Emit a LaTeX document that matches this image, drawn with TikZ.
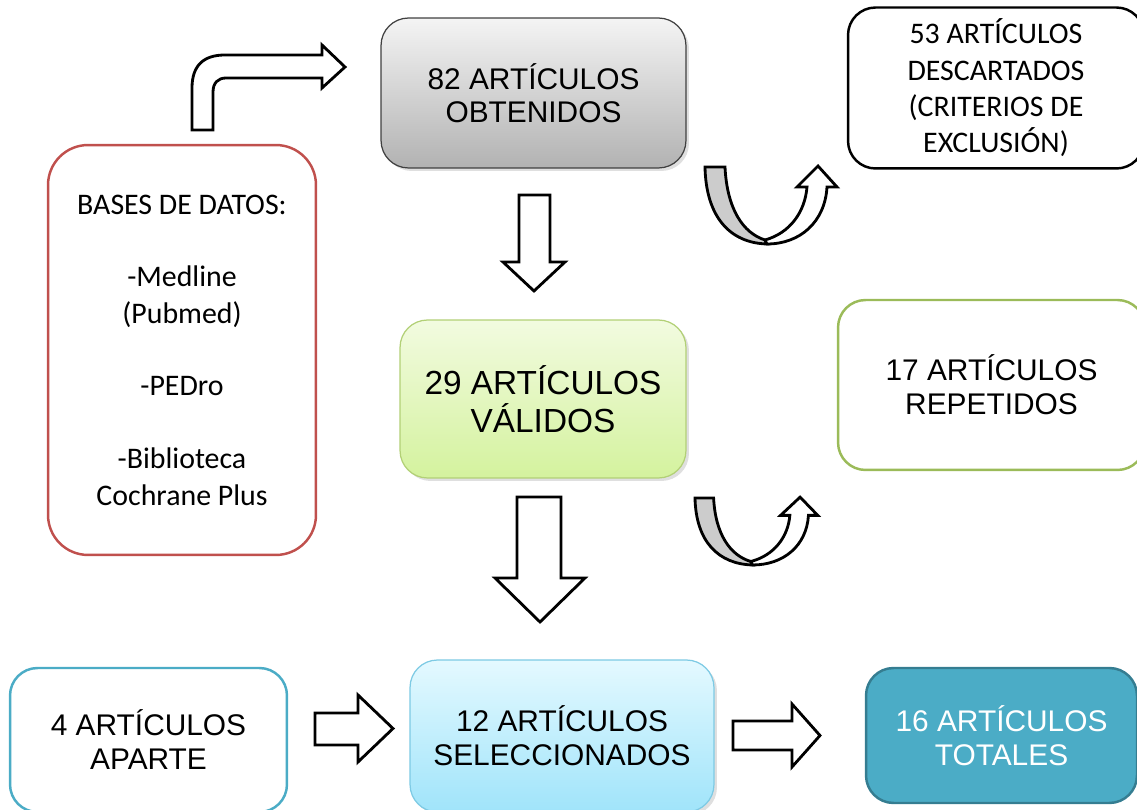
\documentclass[tikz,border=0pt]{standalone}
\usepackage{fontspec}
\setmainfont{Liberation Sans}
\newfontfamily\calibri{Carlito}
\usetikzlibrary{shadows}
\definecolor{basesred}{RGB}{192,80,77}
\definecolor{repgreen}{RGB}{155,187,89}
\definecolor{valgreen}{RGB}{178,208,118}
\definecolor{valtop}{RGB}{242,251,224}
\definecolor{valbot}{RGB}{212,242,158}
\definecolor{obttop}{RGB}{244,244,244}
\definecolor{obtbot}{RGB}{178,178,178}
\definecolor{apablue}{RGB}{75,172,198}
\definecolor{selblue}{RGB}{125,202,228}
\definecolor{seltop}{RGB}{228,249,255}
\definecolor{selbot}{RGB}{160,228,250}
\definecolor{totfill}{RGB}{75,172,198}
\definecolor{totdraw}{RGB}{53,125,145}
\definecolor{ugray}{RGB}{204,204,204}

\begin{document}
\begin{tikzpicture}[x=0.02cm, y=-0.02cm,
  caja/.style={rounded corners=0.55cm, align=center, inner sep=0pt,
    font=\fontsize{17}{19.4}\selectfont},
  sombra/.style={drop shadow={opacity=0.25, shadow xshift=0.06cm, shadow yshift=-0.06cm}},
  flecha/.style={draw=black, fill=white, line width=1.6pt, line join=miter},
  uturn/.pic={
    \path[flecha, fill=ugray] (0,0) -- (20,0) .. controls (22,42) and (38,66) .. (60,73)
      -- (62,77) .. controls (25,76) and (1,50) .. (0,0) -- cycle;
    \path[flecha] (60,73) .. controls (85,66) and (100,45) .. (102,20) -- (92,20)
      -- (113,-1) -- (132,20) -- (122,20) .. controls (120,55) and (95,77) .. (62,77) -- cycle;
  }]

\useasboundingbox (0,0) rectangle (1137,810);

% Boxes
\node[caja, draw=basesred, line width=1.4pt, rounded corners=0.8cm,
  minimum width=5.36cm, minimum height=8.2cm,
  font=\calibri\fontsize{17}{20.7}\selectfont] (bases) at (182,350)
  {BASES DE DATOS:\\[20.7pt]-Medline\\(Pubmed)\\[20.7pt]-PEDro\\[20.7pt]-Biblioteca\\Cochrane Plus};

\node[caja, sombra, draw=black!75, line width=0.7pt, top color=obttop, bottom color=obtbot,
  minimum width=6.1cm, minimum height=3cm,
  font=\fontsize{17}{18.8}\selectfont] (obt) at (533.5,93) {82 ARTÍCULOS\\OBTENIDOS};

\node[caja, draw=black, line width=1.4pt, fill=white,
  minimum width=5.92cm, minimum height=3.22cm,
  font=\calibri\fontsize{17}{20.7}\selectfont] (desc) at (996,88)
  {53 ARTÍCULOS\\DESCARTADOS\\(CRITERIOS DE\\EXCLUSIÓN)};

\node[caja, sombra, draw=valgreen, line width=0.7pt, top color=valtop, bottom color=valbot,
  minimum width=5.72cm, minimum height=3.16cm,
  font=\fontsize{19}{21.6}\selectfont] (val) at (543,399) {29 ARTÍCULOS\\VÁLIDOS};

\node[caja, draw=repgreen, line width=1.4pt, fill=white,
  minimum width=6.14cm, minimum height=3.4cm] (rep) at (991.5,385) {17 ARTÍCULOS\\REPETIDOS};

\node[caja, draw=apablue, line width=1.4pt, fill=white,
  minimum width=5.54cm, minimum height=2.88cm] (apar) at (148.5,740) {4 ARTÍCULOS\\APARTE};

\node[caja, sombra, draw=selblue, line width=0.7pt, top color=seltop, bottom color=selbot,
  minimum width=6.08cm, minimum height=3.04cm] (sel) at (562,736) {12 ARTÍCULOS\\SELECCIONADOS};

\node[caja, draw=totdraw, line width=1.4pt, fill=totfill, text=white,
  minimum width=5.42cm, minimum height=2.7cm] (tot) at (1001.5,735.5) {16 ARTÍCULOS\\TOTALES};

% Block arrows
\path[flecha] (192,130) -- (192,88) .. controls (192,66) and (203,55) .. (225,55) -- (322,55)
  -- (322,45) -- (345,67) -- (322,88) -- (322,78) -- (226,78)
  .. controls (218,78) and (213,83) .. (213,92) -- (213,130) -- cycle;
\path[flecha] (519,195) -- (550,195) -- (550,262) -- (565,262) -- (534,291) -- (503,262) -- (519,262) -- cycle;
\path[flecha] (517,497) -- (561,497) -- (561,578) -- (585,578) -- (540,622) -- (495,578) -- (517,578) -- cycle;
\path[flecha] (315,713) -- (358,713) -- (358,695) -- (393,728.5) -- (358,762) -- (358,745) -- (315,745) -- cycle;
\path[flecha] (733,721) -- (792,721) -- (792,704) -- (820,735.5) -- (792,767) -- (792,750) -- (733,750) -- cycle;

% U-turn arrows
\pic at (705,167) {uturn};
\pic[xscale=0.93, yscale=0.87] at (695,498) {uturn};

\end{tikzpicture}
\end{document}
